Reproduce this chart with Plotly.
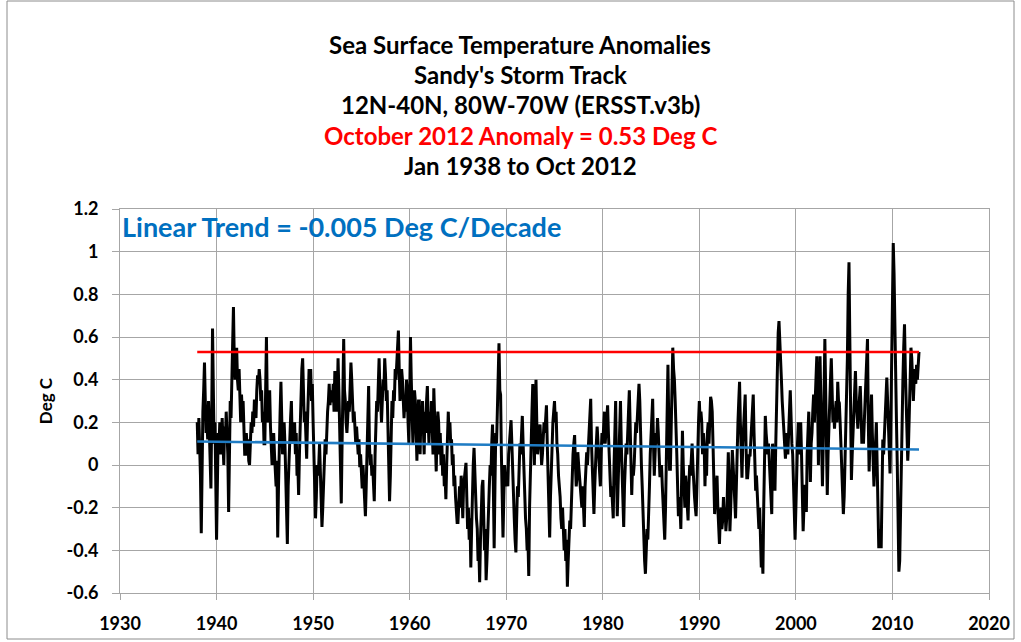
import plotly.graph_objects as go

# Monthly SST anomalies (Deg C), Jan 1938 .. Oct 2012, twelve values per row
start_year = 1938
anomaly = [
    0.20, 0.05, 0.22, 0.10, -0.05, -0.32, 0.10, 0.25, 0.35, 0.48, 0.30, 0.15,   # 1938
    0.20, 0.12, 0.30, 0.18, 0.05, -0.11, 0.25, 0.64, 0.35, 0.10, 0.20, -0.05,   # 1939
    -0.35, -0.10, 0.15, 0.08, 0.20, 0.05, 0.15, 0.22, 0.10, 0.00, 0.18, 0.12,   # 1940
    0.25, 0.15, 0.05, -0.22, 0.10, 0.30, 0.22, 0.45, 0.60, 0.74, 0.50, 0.40,    # 1941
    0.48, 0.55, 0.40, 0.35, 0.45, 0.30, 0.20, 0.33, 0.25, 0.30, 0.15, 0.05,     # 1942
    0.05, 0.15, 0.08, 0.12, 0.02, 0.00, 0.10, 0.20, 0.15, 0.25, 0.18, 0.30,     # 1943
    0.30, 0.22, 0.35, 0.42, 0.38, 0.45, 0.40, 0.30, 0.35, 0.20, 0.25, 0.10,     # 1944
    0.10, 0.35, 0.60, 0.30, 0.20, 0.30, 0.35, 0.18, 0.05, 0.00, 0.12, 0.15,     # 1945
    0.05, -0.05, -0.10, 0.02, -0.34, -0.10, 0.15, 0.25, 0.39, 0.20, 0.05, 0.12, # 1946
    0.20, 0.10, -0.05, -0.20, -0.37, -0.10, 0.05, 0.15, 0.22, 0.30, 0.10, 0.18, # 1947
    0.10, 0.20, 0.05, 0.15, -0.05, 0.00, -0.14, 0.05, 0.20, 0.30, 0.45, 0.50,   # 1948
    0.35, 0.20, 0.25, 0.10, 0.03, 0.20, 0.30, 0.45, 0.40, 0.45, 0.30, 0.38,     # 1949
    0.20, 0.05, -0.10, -0.25, -0.15, 0.00, -0.05, 0.00, 0.10, -0.05, -0.20, -0.29,  # 1950
    -0.20, -0.05, 0.05, 0.12, 0.05, 0.20, 0.25, 0.30, 0.38, 0.28, 0.35, 0.30,   # 1951
    0.30, 0.38, 0.25, 0.44, 0.35, 0.25, 0.30, 0.50, 0.35, 0.20, 0.05, -0.18,    # 1952
    0.10, 0.40, 0.59, 0.35, 0.30, 0.20, 0.15, 0.22, 0.30, 0.25, 0.40, 0.48,     # 1953
    0.40, 0.30, 0.20, 0.25, 0.15, 0.10, 0.18, 0.10, 0.05, 0.12, -0.01, 0.05,    # 1954
    -0.05, -0.11, 0.00, -0.08, -0.15, -0.24, -0.10, 0.10, 0.25, 0.37, 0.10, 0.00,  # 1955
    0.05, -0.05, 0.00, -0.10, -0.17, 0.05, 0.15, 0.30, 0.25, 0.40, 0.50, 0.35,  # 1956
    0.30, 0.20, 0.28, 0.40, 0.35, 0.50, 0.42, 0.30, 0.35, 0.15, 0.00, -0.17,    # 1957
    -0.05, 0.15, 0.30, 0.22, 0.35, 0.30, 0.45, 0.40, 0.50, 0.55, 0.63, 0.45,    # 1958
    0.30, 0.35, 0.45, 0.40, 0.30, 0.22, 0.30, 0.25, 0.40, 0.35, 0.20, 0.10,     # 1959
    0.30, 0.60, 0.40, 0.20, 0.10, 0.25, 0.35, 0.30, 0.15, 0.02, 0.20, 0.30,     # 1960
    0.30, 0.05, 0.25, 0.15, 0.30, 0.20, 0.05, 0.25, 0.15, 0.30, 0.37, 0.20,     # 1961
    0.10, 0.25, 0.15, 0.30, 0.20, 0.05, 0.36, 0.25, 0.10, -0.03, 0.15, 0.25,    # 1962
    0.20, 0.05, 0.15, 0.00, 0.10, -0.05, 0.05, -0.10, -0.05, -0.16, 0.00, 0.20, # 1963
    0.25, 0.12, 0.20, 0.10, 0.12, 0.00, 0.05, -0.10, -0.05, -0.15, -0.20, -0.27,   # 1964
    -0.27, -0.15, -0.10, -0.20, -0.05, -0.12, -0.25, -0.10, -0.05, 0.00, 0.01, -0.15,  # 1965
    -0.30, -0.20, -0.35, -0.25, -0.48, -0.30, -0.10, 0.00, 0.08, -0.05, -0.20, -0.25,  # 1966
    -0.30, -0.45, -0.40, -0.55, -0.35, -0.20, -0.10, -0.07, -0.25, -0.40, -0.30, -0.54,  # 1967
    -0.45, -0.30, -0.20, -0.10, 0.00, -0.05, 0.10, 0.19, -0.10, -0.39, -0.10, 0.15,  # 1968
    0.10, 0.30, 0.40, 0.57, 0.35, 0.33, 0.05, -0.20, -0.34, -0.15, 0.00, -0.05,  # 1969
    -0.10, -0.05, -0.10, 0.05, 0.10, 0.15, 0.21, 0.10, -0.05, -0.10, -0.25, -0.35,  # 1970
    -0.41, -0.25, -0.10, -0.15, 0.00, 0.10, 0.05, 0.15, 0.23, 0.10, -0.05, -0.20,  # 1971
    -0.25, -0.30, -0.40, -0.35, -0.52, -0.20, 0.00, 0.15, 0.25, 0.38, 0.20, 0.00,  # 1972
    0.25, 0.40, 0.20, 0.05, 0.10, 0.15, 0.19, 0.10, 0.00, 0.05, 0.15, 0.20,     # 1973
    0.15, 0.25, 0.28, 0.10, -0.05, -0.20, -0.34, -0.15, 0.00, 0.10, 0.20, 0.25, # 1974
    0.30, 0.20, 0.25, 0.10, 0.05, -0.05, -0.09, -0.15, -0.25, -0.30, -0.20, -0.35,  # 1975
    -0.40, -0.30, -0.45, -0.35, -0.57, -0.45, -0.35, -0.26, -0.30, -0.15, -0.05, 0.05,  # 1976
    0.10, 0.14, 0.00, -0.10, -0.05, 0.06, 0.00, -0.05, -0.10, -0.15, -0.20, -0.10,  # 1977
    -0.20, -0.29, -0.10, 0.00, 0.06, 0.00, 0.10, 0.20, 0.25, 0.31, 0.10, -0.05, # 1978
    -0.15, -0.23, -0.10, 0.05, 0.10, 0.18, 0.12, 0.05, -0.05, -0.10, 0.05, 0.15,  # 1979
    0.10, 0.20, 0.25, 0.10, 0.15, 0.20, 0.28, 0.15, 0.05, -0.05, -0.15, -0.10,  # 1980
    -0.20, -0.25, 0.00, 0.15, 0.30, 0.00, -0.24, -0.10, 0.05, 0.15, 0.30, 0.10, # 1981
    0.00, -0.15, -0.29, -0.10, 0.00, 0.10, 0.05, 0.20, 0.25, 0.35, 0.15, -0.05, # 1982
    -0.14, 0.00, -0.05, 0.00, 0.10, 0.20, 0.15, 0.25, 0.30, 0.38, 0.30, 0.10,   # 1983
    0.00, -0.10, -0.25, -0.40, -0.45, -0.51, -0.40, -0.30, -0.35, -0.25, -0.10, 0.05,  # 1984
    0.15, 0.25, 0.31, 0.10, -0.05, 0.05, 0.15, 0.10, 0.22, 0.15, 0.00, -0.05,   # 1985
    -0.05, 0.00, -0.10, -0.20, -0.25, -0.35, -0.20, 0.10, 0.30, 0.47, 0.20, -0.02,  # 1986
    -0.02, 0.20, 0.35, 0.55, 0.45, 0.40, 0.30, 0.20, 0.05, -0.10, -0.24, -0.15, # 1987
    -0.20, -0.30, 0.00, 0.16, 0.00, -0.10, -0.20, -0.05, -0.15, -0.20, -0.26, -0.10,  # 1988
    0.00, -0.05, 0.05, 0.10, 0.00, -0.10, -0.15, -0.20, -0.24, -0.10, 0.10, 0.20,  # 1989
    0.30, 0.20, 0.25, 0.20, 0.05, 0.15, 0.10, -0.10, 0.05, -0.05, 0.15, 0.20,   # 1990
    0.10, 0.20, 0.32, 0.30, 0.25, 0.10, -0.10, -0.23, -0.15, -0.10, -0.05, -0.20,  # 1991
    -0.30, -0.37, -0.25, -0.20, -0.30, -0.26, -0.15, -0.25, -0.20, -0.31, -0.25, -0.10,  # 1992
    0.06, -0.10, -0.31, -0.20, -0.05, 0.07, 0.00, -0.10, -0.20, -0.25, -0.10, 0.10,  # 1993
    0.20, 0.30, 0.39, 0.20, 0.05, -0.06, 0.10, 0.20, 0.25, 0.33, 0.10, -0.06,   # 1994
    -0.06, 0.00, 0.05, 0.04, 0.10, 0.20, 0.25, 0.33, 0.15, 0.00, -0.12, -0.05,  # 1995
    -0.15, -0.25, -0.30, -0.20, -0.35, -0.48, -0.40, -0.51, -0.20, 0.00, 0.23, 0.15,  # 1996
    0.10, 0.05, 0.10, 0.00, -0.10, -0.15, -0.23, 0.10, 0.00, -0.05, -0.12, 0.10,  # 1997
    0.30, 0.50, 0.62, 0.675, 0.60, 0.47, 0.40, 0.30, 0.22, 0.15, 0.10, 0.03,    # 1998
    0.10, 0.15, 0.05, 0.20, 0.25, 0.35, 0.15, 0.10, 0.05, -0.10, -0.20, -0.35,  # 1999
    -0.20, 0.00, 0.10, 0.20, 0.05, 0.15, 0.20, 0.05, -0.15, -0.31, -0.20, -0.10,  # 2000
    -0.10, -0.22, 0.05, 0.15, 0.25, 0.10, -0.08, 0.10, 0.15, 0.25, 0.33, 0.20,  # 2001
    0.30, 0.40, 0.51, 0.30, 0.00, 0.25, 0.51, 0.30, 0.10, -0.10, 0.10, 0.30,    # 2002
    0.59, 0.35, 0.10, -0.14, 0.05, 0.20, 0.30, 0.40, 0.50, 0.35, 0.20, 0.25,    # 2003
    0.17, 0.25, 0.30, 0.20, 0.39, 0.30, 0.29, 0.20, 0.10, 0.00, -0.10, -0.23,   # 2004
    -0.15, 0.00, 0.10, 0.25, 0.50, 0.80, 0.95, 0.60, 0.30, -0.07, 0.05, 0.17,   # 2005
    0.25, 0.35, 0.44, 0.30, 0.20, 0.17, 0.25, 0.30, 0.37, 0.25, 0.10, 0.15,     # 2006
    0.10, 0.20, 0.30, 0.40, 0.50, 0.59, 0.20, -0.03, 0.10, 0.25, 0.33, 0.15,    # 2007
    0.05, -0.10, 0.00, 0.10, 0.20, 0.00, -0.25, -0.39, -0.35, -0.30, -0.39, -0.20,  # 2008
    0.12, 0.05, 0.15, 0.25, 0.30, 0.41, 0.30, 0.20, 0.05, -0.04, 0.20, 0.50,    # 2009
    0.80, 1.04, 0.90, 0.60, 0.40, 0.20, 0.00, -0.30, -0.50, -0.45, -0.20, 0.10, # 2010
    0.20, 0.40, 0.55, 0.66, 0.45, 0.30, 0.15, 0.02, 0.10, 0.30, 0.45, 0.55,     # 2011
    0.50, 0.35, 0.30, 0.40, 0.45, 0.38, 0.47, 0.40, 0.48, 0.53,                 # 2012 (Jan-Oct)
]

# Linear trend of the series
trend_start_value = 0.11
trend_per_decade = -0.005

x_tick_values = [1930, 1940, 1950, 1960, 1970, 1980, 1990, 2000, 2010, 2020]
y_tick_values = [-0.6, -0.4, -0.2, 0.0, 0.2, 0.4, 0.6, 0.8, 1.0, 1.2]
y_tick_labels = ["-0.6", "-0.4", "-0.2", "0", "0.2", "0.4", "0.6", "0.8", "1", "1.2"]

title_lines = [
    ("Sea Surface Temperature Anomalies", "#000000"),
    ("Sandy's Storm Track", "#000000"),
    ("12N-40N, 80W-70W (ERSST.v3b)", "#000000"),
    ("October 2012 Anomaly = 0.53 Deg C", "#ff0000"),
    ("Jan 1938 to Oct 2012", "#000000"),
]
trend_label = "Linear Trend = -0.005 Deg C/Decade"

# decimal-year time axis, one point per month
time = [start_year + i / 12 for i in range(len(anomaly))]
t_first, t_last = time[0], time[-1]
latest = anomaly[-1]
trend_ends = [trend_start_value + trend_per_decade * (t - t_first) / 10 for t in (t_first, t_last)]

FONT = "Lato, 'Open Sans', sans-serif"
GRID = "#a6a6a6"

fig = go.Figure()
fig.add_trace(go.Scatter(x=time, y=anomaly, mode="lines",
                         line=dict(color="#000000", width=3.0), hoverinfo="x+y"))
fig.add_trace(go.Scatter(x=[t_first, t_last], y=[latest, latest], mode="lines",
                         line=dict(color="#ff0000", width=2.6)))
fig.add_trace(go.Scatter(x=[t_first, t_last], y=trend_ends, mode="lines",
                         line=dict(color="#1f7cc4", width=2.6)))

# chart title block
title_y_px = [44, 74, 104, 135, 166]
plot_top, plot_bottom = 209, 593
for (text, color), ypx in zip(title_lines, title_y_px):
    fig.add_annotation(text=f"<b>{text}</b>", xref="paper", yref="paper",
                       x=(520 - 120) / 869, y=(plot_bottom - ypx) / (plot_bottom - plot_top),
                       xanchor="center", yanchor="middle", showarrow=False,
                       font=dict(family=FONT, size=24, color=color))

fig.add_annotation(text=f"<b>{trend_label}</b>", xref="paper", yref="paper",
                   x=0.0, y=(plot_bottom - 226) / (plot_bottom - plot_top),
                   xanchor="left", yanchor="middle", showarrow=False,
                   font=dict(family=FONT, size=27, color="#0070c0"))

# outer chart-area frame
fig.add_shape(type="rect", xref="paper", yref="paper",
              x0=(7 - 120) / 869, x1=(1014 - 120) / 869,
              y0=(plot_bottom - 639) / 384, y1=(plot_bottom - 1) / 384,
              line=dict(color="#8c8c8c", width=1), layer="below")

fig.update_layout(
    width=1021, height=642,
    margin=dict(l=120, r=32, t=209, b=49),
    paper_bgcolor="white", plot_bgcolor="white",
    showlegend=False,
    font=dict(family=FONT, color="#000000"),
)
fig.update_xaxes(range=[1930, 2020], tickvals=x_tick_values,
                 ticktext=[f"<b>{v}</b>" for v in x_tick_values],
                 showgrid=True, gridcolor=GRID, gridwidth=1,
                 showline=True, linecolor=GRID, linewidth=1, mirror=True,
                 ticks="outside", ticklen=6, tickcolor=GRID, ticklabelstandoff=8,
                 tickfont=dict(family=FONT, size=18), zeroline=False, automargin=False)
fig.update_yaxes(range=[-0.6, 1.2], tickvals=y_tick_values,
                 ticktext=[f"<b>{s}</b>" for s in y_tick_labels],
                 showgrid=True, gridcolor=GRID, gridwidth=1,
                 showline=True, linecolor=GRID, linewidth=1, mirror=True,
                 ticks="outside", ticklen=7, tickcolor=GRID, ticklabelstandoff=10,
                 tickfont=dict(family=FONT, size=18), zeroline=False, automargin=False,
                 title=dict(text="<b>Deg C</b>", font=dict(family=FONT, size=17), standoff=9))

fig.write_html("out.html")
